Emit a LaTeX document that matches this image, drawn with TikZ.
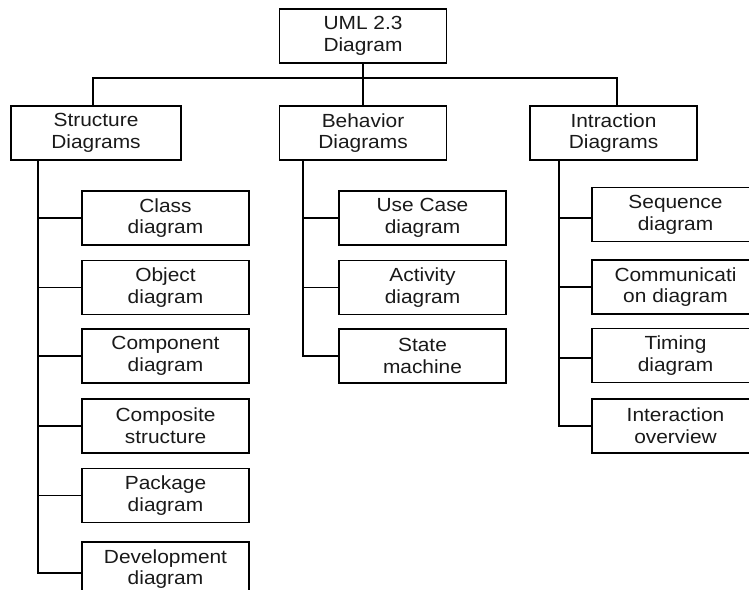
\documentclass[tikz,border=0pt]{standalone}
\usepackage{fontspec}
\setmainfont{Liberation Sans}[FakeStretch=1.1]
\usepackage{tikz}
\usetikzlibrary{calc}

\tikzset{
  umlbox/.style={draw=black, line width=1.8pt, minimum width=167pt, minimum height=54pt,
    inner sep=0pt, align=center, text=black!90, font=\fontsize{19}{21.7}\selectfont},
  branch/.style={draw=black, line width=1.8pt}
}

\begin{document}
\begin{tikzpicture}[x=1pt, y=-1pt]

  \useasboundingbox (0,0) rectangle (749,589);
  \clip (0,0) rectangle (749,589);

  \node[umlbox] (root) at (363,36) {UML 2.3\\Diagram};

  \node[umlbox, minimum width=170pt] (strct) at (96,133) {Structure\\Diagrams};
  \node[umlbox] (behav) at (363,133) {Behavior\\Diagrams};
  \node[umlbox] (intr) at (613.5,133) {Intraction\\Diagrams};

  % structure column
  \node[umlbox] (cls)  at (165.5,218) {Class\\diagram};
  \node[umlbox] (obj)  at (165.5,287.5) {Object\\diagram};
  \node[umlbox] (comp) at (165.5,356) {Component\\diagram};
  \node[umlbox] (csit) at (165.5,426) {Composite\\structure};
  \node[umlbox] (pkg)  at (165.5,495.5) {Package\\diagram};
  \node[umlbox] (dev)  at (165.5,569) {Development\\diagram};

  % behavior column
  \node[umlbox] (ucase) at (422.5,218) {Use Case\\diagram};
  \node[umlbox] (act)   at (422.5,287.5) {Activity\\diagram};
  \node[umlbox] (stm)   at (422.5,356) {State\\machine};

  % interaction column
  \node[umlbox] (seq)   at (675.5,214.5) {Sequence\\diagram};
  \node[umlbox] (comm)  at (675.5,287) {Communicati\\on diagram};
  \node[umlbox] (tim)   at (675.5,355.5) {Timing\\diagram};
  \node[umlbox] (iov)   at (675.5,426) {Interaction\\overview};

  \coordinate (busL) at (93,78);
  \coordinate (busR) at (617,78);
  \coordinate (sT) at (38,160);
  \coordinate (bT) at (303,160);
  \coordinate (iT) at (559,160);

  \draw[branch] (root.south) -- (behav.north);
  \draw[branch] (strct.north -| busL) -- (busL) -- (busR) -- (intr.north -| busR);

  \draw[branch] (sT) |- (cls.west);
  \draw[branch] (sT) |- (obj.west);
  \draw[branch] (sT) |- (comp.west);
  \draw[branch] (sT) |- (csit.west);
  \draw[branch] (sT) |- (pkg.west);
  \draw[branch] (sT) |- ($ (dev.west)+(0,4) $);

  \draw[branch] (bT) |- (ucase.west);
  \draw[branch] (bT) |- (act.west);
  \draw[branch] (bT) |- (stm.west);

  \draw[branch] (iT) |- ($ (seq.west)+(0,3.5) $);
  \draw[branch] (iT) |- (comm.west);
  \draw[branch] (iT) |- ($ (tim.west)+(0,2.5) $);
  \draw[branch] (iT) |- (iov.west);

\end{tikzpicture}
\end{document}
